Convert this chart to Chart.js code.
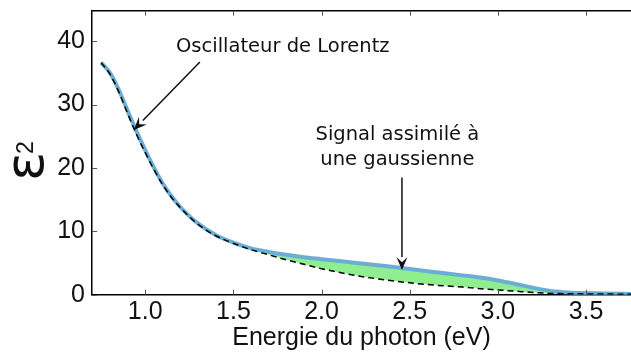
<!DOCTYPE html>
<html><head><meta charset="utf-8">
<script src="https://cdn.jsdelivr.net/npm/chart.js@4"></script>
<style>html,body{margin:0;padding:0;background:#fff;}#wrap{width:631px;height:362px;position:relative;}</style>
</head><body><div id="wrap"><canvas id="c" width="631" height="362"></canvas></div>
<script>
const energies = [0.75,0.8,0.85,0.9,0.95,1.0,1.05,1.1,1.15,1.2,1.25,1.3,1.4,1.5,1.6,1.7,1.8,1.9,2.0,2.2,2.4,2.6,2.8,2.9,3.0,3.1,3.2,3.3,3.4,3.5,3.6,3.76];
const totalEps2 = [36.6,35.0,32.3,29.0,25.8,22.8,20.0,17.5,15.5,13.8,12.4,11.2,9.4,8.2,7.3,6.75,6.3,5.9,5.6,5.0,4.4,3.7,3.05,2.7,2.25,1.7,1.1,0.6,0.35,0.25,0.2,0.1];
const lorentzEps2 = [36.6,34.8,32.0,28.6,25.3,22.4,19.7,17.3,15.3,13.7,12.3,11.1,9.3,8.1,7.1,6.3,5.5,4.8,4.1,3.0,2.2,1.6,1.2,0.95,0.75,0.55,0.35,0.2,0.15,0.12,0.1,0.08];
const xTicks = [1.0,1.5,2.0,2.5,3.0,3.5];
const yTicks = [0,10,20,30,40];
const xTitle = "Energie du photon (eV)";
const annLorentz = {text:"Oscillateur de Lorentz", x:1.78, y:39.1, arrowFrom:[1.31,36.7], arrowTo:[0.935,26.0]};
const annGauss = {lines:["Signal assimilé à","une gaussienne"], x:2.43, y:25.2, arrowFrom:[2.456,18.5], arrowTo:[2.456,3.9]};

const toPts = (ys) => energies.map((e,i)=>({x:e,y:ys[i]}));

function arrow(ctx, x1,y1,x2,y2){
  const a = Math.atan2(y2-y1,x2-x1), L=13, W=5.5;
  const bx = x2 - L*Math.cos(a), by = y2 - L*Math.sin(a);
  ctx.beginPath(); ctx.moveTo(x1,y1); ctx.lineTo(bx,by); ctx.stroke();
  ctx.beginPath(); ctx.moveTo(x2,y2);
  ctx.lineTo(bx - W*Math.sin(a), by + W*Math.cos(a));
  ctx.lineTo(x2 - 0.6*L*Math.cos(a), y2 - 0.6*L*Math.sin(a));
  ctx.lineTo(bx + W*Math.sin(a), by - W*Math.cos(a));
  ctx.closePath(); ctx.fill();
}

const deco = {
  id:'deco',
  afterDraw(chart){
    const {ctx, chartArea:a, scales:{x,y}} = chart;
    ctx.save();
    ctx.strokeStyle='#000'; ctx.lineWidth=1.5;
    ctx.beginPath(); ctx.moveTo(a.left-0.75, a.top); ctx.lineTo(a.right, a.top); ctx.stroke();
    ctx.strokeStyle='#555'; ctx.lineWidth=1;
    xTicks.forEach(v=>{const px=Math.round(x.getPixelForValue(v))+0.5;
      ctx.beginPath(); ctx.moveTo(px,a.bottom); ctx.lineTo(px,a.bottom-5);
      ctx.moveTo(px,a.top); ctx.lineTo(px,a.top+5); ctx.stroke();});
    yTicks.forEach(v=>{const py=Math.round(y.getPixelForValue(v))+0.5;
      ctx.beginPath(); ctx.moveTo(a.left,py); ctx.lineTo(a.left+5,py); ctx.stroke();});
    ctx.fillStyle='#111'; ctx.font='25px "Liberation Sans", Arial, sans-serif';
    ctx.textAlign='center'; ctx.textBaseline='alphabetic';
    ctx.fillText(xTitle, (a.left+a.right)/2, 345);
    ctx.save(); ctx.translate(43,181); ctx.rotate(-Math.PI/2);
    ctx.textAlign='left'; ctx.textBaseline='alphabetic'; ctx.font='54px "DejaVu Sans", sans-serif';
    ctx.fillText('ε',0,0);
    ctx.font='23px "Liberation Sans", Arial, sans-serif';
    ctx.fillText('2',27,-10);
    ctx.restore();
    ctx.fillStyle='#111'; ctx.strokeStyle='#111'; ctx.lineWidth=1.5;
    ctx.font='19.5px "DejaVu Sans", sans-serif'; ctx.textAlign='center'; ctx.textBaseline='middle';
    ctx.fillText(annLorentz.text, x.getPixelForValue(annLorentz.x), y.getPixelForValue(annLorentz.y));
    arrow(ctx, x.getPixelForValue(annLorentz.arrowFrom[0]), y.getPixelForValue(annLorentz.arrowFrom[1]),
               x.getPixelForValue(annLorentz.arrowTo[0]), y.getPixelForValue(annLorentz.arrowTo[1]));
    annGauss.lines.forEach((t,i)=>ctx.fillText(t, x.getPixelForValue(annGauss.x), y.getPixelForValue(annGauss.y)+i*25));
    arrow(ctx, x.getPixelForValue(annGauss.arrowFrom[0]), y.getPixelForValue(annGauss.arrowFrom[1]),
               x.getPixelForValue(annGauss.arrowTo[0]), y.getPixelForValue(annGauss.arrowTo[1]));
    ctx.restore();
  }
};

const noPad = s => { s.paddingTop=0; s.paddingBottom=0; s.paddingLeft=0; s.paddingRight=0; };

new Chart(document.getElementById('c'), {
  type:'line',
  data:{datasets:[
    {label:'Lorentz', data:toPts(lorentzEps2), borderColor:'#000', borderWidth:1.5, borderDash:[6,4],
     pointRadius:0, fill:false, cubicInterpolationMode:'monotone'},
    {label:'Total', data:toPts(totalEps2), borderColor:'#6aaed6', borderWidth:4,
     pointRadius:0, cubicInterpolationMode:'monotone',
     fill:{target:0, above:'#90ee90', below:'rgba(0,0,0,0)'}}
  ]},
  options:{
    responsive:false, animation:false, events:[],
    layout:{padding:{top:10.7,right:0,left:0,bottom:0}},
    plugins:{legend:{display:false}, tooltip:{enabled:false}},
    scales:{
      x:{type:'linear', min:0.698, max:3.755,
         afterBuildTicks:s=>{s.ticks=xTicks.map(v=>({value:v}));},
         afterFit:s=>{s.height=67.3; noPad(s);},
         grid:{display:true, drawOnChartArea:false, drawTicks:false},
         border:{display:true,color:'#000',width:1.5},
         ticks:{padding:2,color:'#111',font:{family:'"Liberation Sans", Arial, sans-serif',size:25},callback:v=>v.toFixed(1),maxRotation:0,autoSkip:false}},
      y:{type:'linear', min:0, max:44.8,
         afterBuildTicks:s=>{s.ticks=yTicks.map(v=>({value:v}));},
         afterFit:s=>{s.width=92; noPad(s);},
         grid:{display:true, drawOnChartArea:false, drawTicks:false},
         border:{display:true,color:'#000',width:1.5},
         ticks:{padding:7,color:'#111',font:{family:'"Liberation Sans", Arial, sans-serif',size:25},callback:v=>String(v)}}
    }
  },
  plugins:[deco]
});
</script></body></html>
